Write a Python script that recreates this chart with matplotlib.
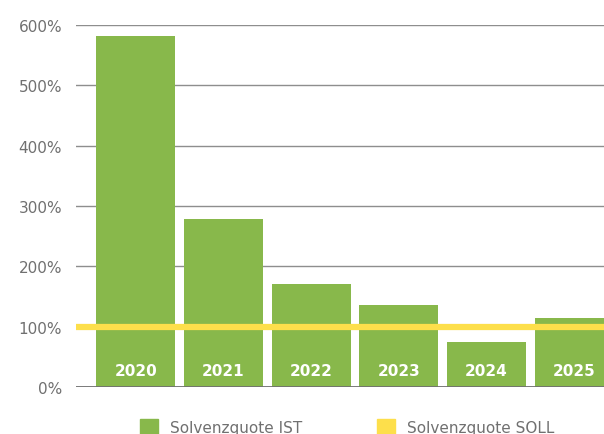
import matplotlib.pyplot as plt
from matplotlib.patches import Patch

years = ['2020', '2021', '2022', '2023', '2024', '2025']
ist = [582, 279, 170, 136, 75, 114]
soll = 100
yticks = [0, 100, 200, 300, 400, 500, 600]

green = '#88b84b'
yellow = '#fddf4b'
grey = '#707070'

fig = plt.figure(figsize=(6.04, 4.35), dpi=100)
ax = fig.add_axes([76 / 604, 47 / 435, 528 / 604, 362 / 435])

x = list(range(len(years)))
# gridlines behind bars
for t in yticks[1:]:
    ax.axhline(t, color='#8e8e8e', lw=1, zorder=0)
ax.axhline(0, color=grey, lw=1.3, zorder=3)

ax.bar(x, ist, width=0.9, color=green, zorder=1)
ax.axhline(soll, color=yellow, lw=4.5, zorder=2)

for xi, yr in zip(x, years):
    ax.text(xi, 28, yr, ha='center', va='center', color='white',
            fontsize=11, fontweight='bold', zorder=4)

ax.set_xlim(-0.68, 5.34)
ax.set_ylim(0, 600)
ax.set_yticks(yticks)
ax.set_yticklabels(['%i%%' % t for t in yticks])
ax.tick_params(axis='y', length=0, pad=10, labelsize=11, labelcolor=grey)
ax.set_xticks([])
for s in ax.spines.values():
    s.set_visible(False)

handles = [Patch(color=green, label='Solvenzquote IST'),
           Patch(color=yellow, label='Solvenzquote SOLL')]
fig.legend(handles=handles, loc='lower left', bbox_to_anchor=(126 / 604, -15 / 435),
           ncol=2, frameon=False, fontsize=11, handlelength=1.2, handleheight=1.2,
           columnspacing=4.85, handletextpad=0.8, labelcolor=grey)

fig.savefig('out.png', dpi=100)
